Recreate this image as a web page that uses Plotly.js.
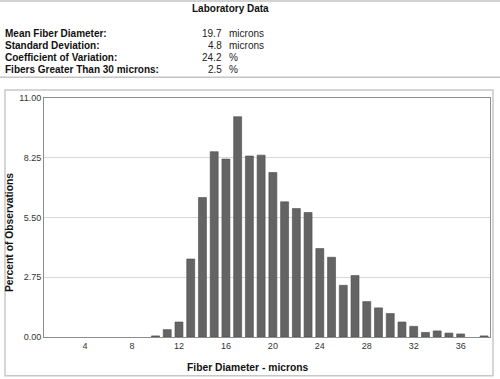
<!DOCTYPE html>
<html>
<head>
<meta charset="utf-8">
<script src="https://cdn.plot.ly/plotly-3.0.1.min.js"></script>
<style>html,body{margin:0;padding:0;background:#fff;}#chart{width:500px;height:379px;}</style>
</head>
<body>
<div id="chart"></div>
<script>
// Data
var diameters = [1,2,3,4,5,6,7,8,9,10,11,12,13,14,15,16,17,18,19,20,21,22,23,24,25,26,27,28,29,30,31,32,33,34,35,36,37,38];
var percentObs = [0,0,0,0,0,0,0,0,0,0.05,0.34,0.69,3.59,6.42,8.53,8.19,10.14,8.33,8.37,7.57,6.22,5.91,5.73,4.07,3.67,2.38,2.83,1.63,1.34,1.08,0.69,0.49,0.21,0.28,0.18,0.14,0,0.05];
var yTickVals = [0, 2.75, 5.5, 8.25, 11];
var yTickText = ["0.00", "2.75", "5.50", "8.25", "11.00"];
var xTickVals = [4, 8, 12, 16, 20, 24, 28, 32, 36];
var headerTitle = "Laboratory Data";
var statLabels = ["Mean Fiber Diameter:", "Standard Deviation:", "Coefficient of Variation:", "Fibers Greater Than 30 microns:"];
var statValues = ["19.7", "4.8", "24.2", "2.5"];
var statUnits = ["microns", "microns", "%", "%"];

// Layout geometry (pixels)
var W = 500, H = 379;
var M = {l: 44, r: 10, t: 98, b: 42};
var pw = W - M.l - M.r, ph = H - M.t - M.b;
function px(x) { return (x - M.l) / pw; }
function py(y) { return (H - M.b - y) / ph; }

var FONT = "Liberation Sans, Arial, sans-serif";
var annotations = [];
annotations.push({xref:'paper', yref:'paper', x:px(230), y:py(8.5), xanchor:'center', yanchor:'middle',
  text:'<b>'+headerTitle+'</b>', showarrow:false, font:{family:FONT, size:10, color:'#111'}});
var rowY = [33.5, 45.5, 57.5, 69.7];
for (var i = 0; i < statLabels.length; i++) {
  annotations.push({xref:'paper', yref:'paper', x:px(3), y:py(rowY[i]), xanchor:'left', yanchor:'middle',
    text:'<b>'+statLabels[i]+'</b>', showarrow:false, font:{family:FONT, size:10, color:'#111'}});
  annotations.push({xref:'paper', yref:'paper', x:px(224), y:py(rowY[i]), xanchor:'right', yanchor:'middle',
    text:statValues[i], showarrow:false, font:{family:FONT, size:10, color:'#222'}});
  annotations.push({xref:'paper', yref:'paper', x:px(226.5), y:py(rowY[i]), xanchor:'left', yanchor:'middle',
    text:statUnits[i], showarrow:false, font:{family:FONT, size:10, color:'#222'}});
}
annotations.push({xref:'paper', yref:'paper', x:px(248), y:py(367.7), xanchor:'center', yanchor:'middle',
  text:'<b>Fiber Diameter - microns</b>', showarrow:false, font:{family:FONT, size:10.3, color:'#111'}});
annotations.push({xref:'paper', yref:'paper', x:px(9.5), y:py(232.5), xanchor:'center', yanchor:'middle', textangle:-90,
  text:'<b>Percent of Observations</b>', showarrow:false, font:{family:FONT, size:10.3, color:'#111'}});

var shapes = [
  {type:'line', xref:'paper', yref:'paper', x0:px(0), x1:px(500), y0:py(1), y1:py(1), line:{color:'#c4c4c4', width:1.5}},
  {type:'line', xref:'paper', yref:'paper', x0:px(0), x1:px(500), y0:py(77.3), y1:py(77.3), line:{color:'#c4c4c4', width:1.5}},
  {type:'rect', xref:'paper', yref:'paper', x0:px(5), x1:px(493), y0:py(90), y1:py(375.7), line:{color:'#c8c8c8', width:1.5}, fillcolor:'rgba(0,0,0,0)', layer:'below'}
];

var trace = {
  type:'bar', x:diameters, y:percentObs,
  marker:{color:'#646464', line:{color:'#4d4d4d', width:percentObs.map(function(v){ return v > 0 ? 0.6 : 0; })}},
  hoverinfo:'x+y'
};

var layout = {
  width:W, height:H, margin:M, showlegend:false,
  paper_bgcolor:'#fff', plot_bgcolor:'#fff',
  bargap:0.32,
  font:{family:FONT, size:9, color:'#333'},
  xaxis:{range:[0.5, 38.5], tickvals:xTickVals, ticks:'', showgrid:false, zeroline:false,
    showline:true, mirror:true, linecolor:'#8c8c8c', linewidth:1, tickfont:{size:9, color:'#333'}},
  yaxis:{range:[0, 11], tickvals:yTickVals, ticktext:yTickText, ticks:'', showgrid:true, gridcolor:'#d8d8d8', gridwidth:1,
    zeroline:false, showline:true, mirror:true, linecolor:'#8c8c8c', linewidth:1, tickfont:{size:9, color:'#333'}},
  annotations:annotations, shapes:shapes
};

Plotly.newPlot('chart', [trace], layout, {displayModeBar:false, staticPlot:true});
</script>
</body>
</html>
